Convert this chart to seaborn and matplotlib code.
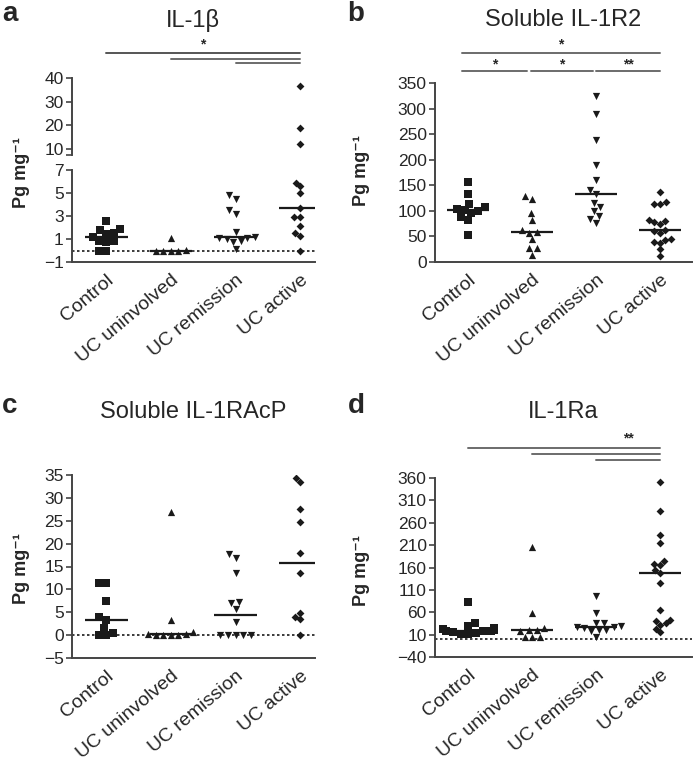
import numpy as np
import pandas as pd
import matplotlib
matplotlib.use('Agg')
import matplotlib.pyplot as plt
import matplotlib.transforms as mtransforms
import seaborn as sns

groups = ['Control', 'UC uninvolved', 'UC remission', 'UC active']
markers = ['s', '^', 'v', 'D']

# a: IL-1beta (pg/mg)
il1b_control = [2.6, 1.9, 1.8, 1.5, 1.4, 1.2, 0.8, 0.8, 0.7, 0, 0]
il1b_uninv = [1.1, 0.05, 0, 0, 0, 0]
il1b_remis = [4.8, 4.5, 3.5, 3.2, 1.6, 1.2, 1.1, 1.1, 1.0, 0.8, 0.7, 0.1]
il1b_active = [36.5, 19, 12, 5.9, 5.6, 5.0, 3.7, 2.9, 2.9, 2.1, 1.5, 1.3, 0]

# b: soluble IL-1R2
r2_control = [157, 133, 113, 108, 104, 102, 100, 95, 88, 82, 53]
r2_uninv = [129, 124, 96, 82, 62, 59, 57, 44, 28, 27, 14]
r2_remis = [325, 289, 239, 190, 160, 140, 133, 116, 107, 100, 90, 85, 77]
r2_active = [137, 117, 114, 114, 83, 80, 78, 75, 63, 60, 57, 45, 43, 40, 37, 25, 12]

# c: soluble IL-1RAcP
acp_control = [11.4, 11.4, 7.5, 4.0, 3.3, 1.5, 0.5, 0, 0]
acp_uninv = [27, 3.3, 0.6, 0.3, 0.3, 0, 0, 0, 0]
acp_remis = [17.7, 16.9, 13.6, 7.2, 7.1, 5.8, 2.8, 0, 0, 0, 0, 0]
acp_active = [34.3, 33.4, 27.5, 24.8, 18.0, 13.6, 4.9, 4.0, 3.45, 0]

# d: IL-1Ra
ra_control = [84, 36, 30, 25, 22, 21, 18, 18, 17, 15, 13, 12, 11]
ra_uninv = [206, 58, 25, 21, 20, 18, 5, 5, 5]
ra_remis = [96, 58, 36, 35, 30, 28, 26, 25, 21, 20, 17, 5]
ra_active = [350, 287, 232, 215, 174, 168, 166, 155, 148, 125, 66, 43, 40, 35, 32, 23, 15]


def make_df(*cols):
    rows = []
    for g, vals in zip(groups, cols):
        rows += [(g, v) for v in vals]
    return pd.DataFrame(rows, columns=['group', 'value'])


df_a = make_df(il1b_control, il1b_uninv, il1b_remis, il1b_active)
df_b = make_df(r2_control, r2_uninv, r2_remis, r2_active)
df_c = make_df(acp_control, acp_uninv, acp_remis, acp_active)
df_d = make_df(ra_control, ra_uninv, ra_remis, ra_active)

sns.set_theme(style='white')
plt.rcParams['font.family'] = ['Liberation Sans', 'DejaVu Sans']
plt.rcParams['axes.edgecolor'] = '#444444'
plt.rcParams['axes.linewidth'] = 1.4

W, H = 693, 766
fig = plt.figure(figsize=(W / 100, H / 100), dpi=100)


def rect(l, r, top, bottom):
    return [l / W, 1 - bottom / H, (r - l) / W, (bottom - top) / H]


def draw(ax, df, med=None, zero=True):
    for g, m in zip(groups, markers):
        sub = df[df.group == g]
        sns.swarmplot(data=sub, x='group', y='value', order=groups, marker=m,
                      color='k', size=4.0 if m == 'D' else 5.2, ax=ax)
    if med is not None:
        sns.boxplot(data=med, x='group', y='value', order=groups, width=0.66,
                    showbox=False, showcaps=False, showfliers=False,
                    whiskerprops={'visible': False},
                    medianprops={'color': 'k', 'linewidth': 1.6}, ax=ax)
    if zero:
        ax.axhline(0, color='k', ls=(0, (1.5, 1.5)), lw=1.2)
    sns.despine(ax=ax)
    ax.set_xlabel('')
    ax.set_ylabel('')
    ax.tick_params(axis='y', length=4, width=1.2, color='#444444',
                   labelsize=12.5, pad=2, left=True)
    ax.tick_params(axis='x', length=0, labelsize=14, pad=7)


def xlabels(ax):
    ax.set_xticks(range(len(groups)))
    ax.set_xticklabels(groups, rotation=40, ha='right', rotation_mode='anchor')


def sig(ax, x0, x1, ypx, text=None, tpx=None, color='#6b6b6b'):
    tr = mtransforms.blended_transform_factory(ax.transData, fig.transFigure)
    ax.plot([x0, x1], [1 - ypx / H] * 2, color=color, lw=1.4,
            transform=tr, clip_on=False)
    if text:
        ax.text((x0 + x1) / 2, 1 - tpx / H, text, transform=tr, ha='center',
                va='center', fontsize=10, fontweight='bold')


ylab = 'Pg mg\u207b\u00b9'

# ---- a (broken axis)
ax_top = fig.add_axes(rect(72, 315, 78, 155))
ax_low = fig.add_axes(rect(72, 315, 170, 262))
draw(ax_top, df_a[df_a.value >= 7.5], zero=False)
draw(ax_low, df_a[df_a.value <= 7], med=df_a)
ax_top.set_ylim(7.5, 40)
ax_top.set_yticks([7.5, 10, 20, 30, 40])
ax_top.set_yticklabels(['', '10', '20', '30', '40'])
ax_top.spines['bottom'].set_visible(False)
ax_top.set_xticks([])
ax_low.set_ylim(-1, 7)
ax_low.set_yticks([-1, 1, 3, 5, 7])
for ax in (ax_top, ax_low):
    ax.set_xlim(-0.53, 3.23)
xlabels(ax_low)
sig(ax_top, 0, 3, 53, '*', 44, color='#555555')
sig(ax_top, 1, 3, 59)
sig(ax_top, 2, 3, 63)

# ---- b
ax_b = fig.add_axes(rect(435, 692, 83, 262))
draw(ax_b, df_b, med=df_b, zero=False)
ax_b.set_ylim(0, 350)
ax_b.set_yticks(range(0, 351, 50))
ax_b.set_xlim(-0.52, 3.5)
xlabels(ax_b)
sig(ax_b, -0.1, 3.0, 53, '*', 44)
sig(ax_b, -0.1, 0.92, 71, '*', 64)
sig(ax_b, 0.98, 1.95, 71, '*', 64)
sig(ax_b, 2.0, 3.0, 71, '**', 64)

# ---- c
ax_c = fig.add_axes(rect(72, 315, 475, 658))
draw(ax_c, df_c, med=df_c)
ax_c.set_ylim(-5, 35)
ax_c.set_yticks(range(-5, 36, 5))
ax_c.set_xlim(-0.53, 3.23)
xlabels(ax_c)

# ---- d
ax_d = fig.add_axes(rect(435, 692, 478, 657))
draw(ax_d, df_d, med=df_d)
ax_d.set_ylim(-40, 360)
ax_d.set_yticks(range(-40, 361, 50))
ax_d.set_xlim(-0.52, 3.5)
xlabels(ax_d)
sig(ax_d, 0, 3, 448)
sig(ax_d, 1, 3, 454)
sig(ax_d, 2, 3, 460)
tr = mtransforms.blended_transform_factory(ax_d.transData, fig.transFigure)
ax_d.text(2.5, 1 - 438 / H, '**', transform=tr, ha='center', va='center',
          fontsize=10, fontweight='bold')

# titles, panel letters, y labels
for x, y, t in [(193, 20, 'IL-1\u03b2'), (563, 20, 'Soluble IL-1R2'),
                (193, 412, 'Soluble IL-1RAcP'), (563, 412, 'IL-1Ra')]:
    fig.text(x / W, 1 - y / H, t, ha='center', va='center', fontsize=17)
for x, y, t in [(10, 14, 'a'), (356, 14, 'b'), (10, 406, 'c'), (356, 406, 'd')]:
    fig.text(x / W, 1 - y / H, t, ha='center', va='center', fontsize=20,
             fontweight='bold')
for x, y in [(22, 172), (362, 170), (22, 568), (362, 570)]:
    fig.text(x / W, 1 - y / H, ylab, ha='center', va='center', rotation=90,
             fontsize=13, fontweight='bold')

fig.savefig('out.png', dpi=100)
